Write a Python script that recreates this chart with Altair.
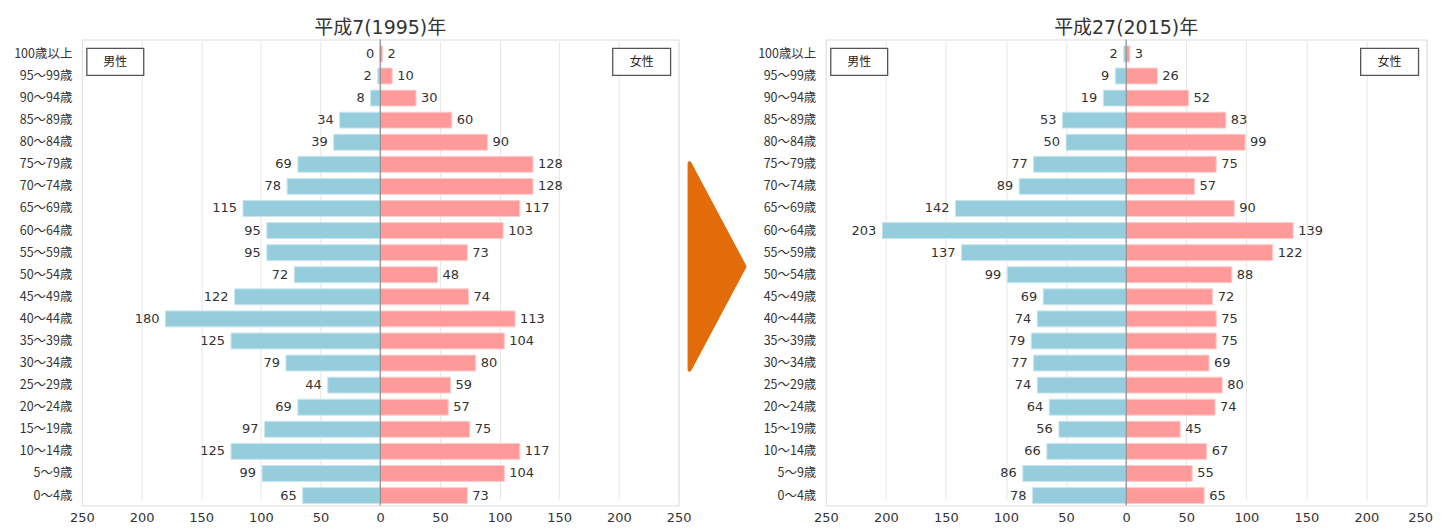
import altair as alt
import pandas as pd

ages = ["100歳以上", "95～99歳", "90～94歳", "85～89歳", "80～84歳", "75～79歳",
        "70～74歳", "65～69歳", "60～64歳", "55～59歳", "50～54歳", "45～49歳",
        "40～44歳", "35～39歳", "30～34歳", "25～29歳", "20～24歳", "15～19歳",
        "10～14歳", "5～9歳", "0～4歳"]

male_1995 = [0, 2, 8, 34, 39, 69, 78, 115, 95, 95, 72, 122, 180, 125, 79, 44, 69, 97, 125, 99, 65]
female_1995 = [2, 10, 30, 60, 90, 128, 128, 117, 103, 73, 48, 74, 113, 104, 80, 59, 57, 75, 117, 104, 73]
male_2015 = [2, 9, 19, 53, 50, 77, 89, 142, 203, 137, 99, 69, 74, 79, 77, 74, 64, 56, 66, 86, 78]
female_2015 = [3, 26, 52, 83, 99, 75, 57, 90, 139, 122, 88, 72, 75, 75, 69, 80, 74, 45, 67, 55, 65]

titles = ["平成7(1995)年", "平成27(2015)年"]
sex_labels = ["男性", "女性"]
x_ticks = [-250, -200, -150, -100, -50, 0, 50, 100, 150, 200, 250]

FONT = "Noto Sans CJK JP"
NUMFONT = "DejaVu Sans, Noto Sans CJK JP"
MALE_C = "#96CDDD"
FEMALE_C = "#FF9A9A"
PLOT_H = 467


def panel(title, male, female, width, arrow=False, pull_last=False):
    df = pd.DataFrame({
        "age": ages * 2,
        "sex": ["男性"] * len(ages) + ["女性"] * len(ages),
        "value": male + female,
        "signed": [-v for v in male] + female,
    })
    xs = alt.Scale(domain=[-250, 250], nice=False, zero=False)
    ys = alt.Scale(domain=ages, range=[6.5, 465], paddingInner=0.28, paddingOuter=0)
    extra = {}
    if pull_last:
        extra = dict(
            labelAlign={"condition": {"test": "datum.value == 250", "value": "right"}, "value": "center"},
            labelOffset={"condition": {"test": "datum.value == 250", "value": 6}, "value": 0},
        )
    base = alt.Chart(df)
    bars = base.mark_bar(strokeWidth=1).encode(
        x=alt.X("signed:Q", scale=xs,
                axis=alt.Axis(values=x_ticks, labelExpr="abs(datum.value)", title=None,
                              ticks=False, domain=False, grid=True, gridColor="#e6e6e6",
                              labelFont=NUMFONT, labelFontSize=13, labelColor="#333",
                              labelPadding=6, labelFlush=False, **extra)),
        x2=alt.datum(0),
        y=alt.Y("age:N", scale=ys, sort=ages,
                axis=alt.Axis(title=None, ticks=False, domain=False, labelFont=FONT,
                              labelFontSize=12.5, labelColor="#333", labelPadding=10,
                              minExtent=68, maxExtent=68)),
        color=alt.Color("sex:N", scale=alt.Scale(domain=["男性", "女性"], range=[MALE_C, FEMALE_C]),
                        legend=None),
        stroke=alt.Stroke("sex:N", scale=alt.Scale(domain=["男性", "女性"], range=["#c8e6ef", "#ffcccc"]),
                          legend=None),
    )
    mlab = base.transform_filter(alt.datum.sex == "男性").mark_text(
        align="right", baseline="middle", dx=-6, font=NUMFONT, fontSize=13, color="#333"
    ).encode(x=alt.X("signed:Q", scale=xs), y=alt.Y("age:N", scale=ys, sort=ages), text="value:Q")
    flab = base.transform_filter(alt.datum.sex == "女性").mark_text(
        align="left", baseline="middle", dx=5, font=NUMFONT, fontSize=13, color="#333"
    ).encode(x=alt.X("signed:Q", scale=xs), y=alt.Y("age:N", scale=ys, sort=ages), text="value:Q")
    zero = alt.Chart(pd.DataFrame({"z": [0]})).mark_rule(color="#777", strokeWidth=1).encode(
        x=alt.X("z:Q", scale=xs))

    boxes_df = pd.DataFrame({"label": sex_labels})
    box_l = alt.Chart(boxes_df).transform_filter(alt.datum.label == "男性").mark_rect(
        fill="white", stroke="#555", strokeWidth=1.3).encode(
        x=alt.value(5), x2=alt.value(62), y=alt.value(9), y2=alt.value(36))
    box_r = alt.Chart(boxes_df).transform_filter(alt.datum.label == "女性").mark_rect(
        fill="white", stroke="#555", strokeWidth=1.3).encode(
        x=alt.value(width - 66), x2=alt.value(width - 8), y=alt.value(9), y2=alt.value(36))
    txt_l = alt.Chart(boxes_df).transform_filter(alt.datum.label == "男性").mark_text(
        font=FONT, fontSize=12, color="#222", align="center", baseline="middle").encode(
        x=alt.value(33.5), y=alt.value(22.5), text="label:N")
    txt_r = alt.Chart(boxes_df).transform_filter(alt.datum.label == "女性").mark_text(
        font=FONT, fontSize=12, color="#222", align="center", baseline="middle").encode(
        x=alt.value(width - 37), y=alt.value(22.5), text="label:N")

    layers = [bars, zero, mlab, flab, box_l, box_r, txt_l, txt_r]
    if arrow:
        arr = alt.Chart(pd.DataFrame({"a": [1]})).mark_point(
            shape="M-1,-3.76L1,0L-1,3.76Z", filled=True, fill="#E36C0A", stroke="#E36C0A",
            strokeWidth=4, strokeJoin="round", opacity=1, size=3025, clip=False).encode(
            x=alt.value(width + 38.5), y=alt.value(227.5))
        layers.append(arr)
    return alt.layer(*layers).properties(
        width=width, height=PLOT_H,
        title=alt.Title(title, font=NUMFONT, fontSize=19, fontWeight="normal", color="#333", offset=1),
    )


left = panel(titles[0], male_1995, female_1995, 598, arrow=True)
right = panel(titles[1], male_2015, female_2015, 602, pull_last=True)

chart = alt.hconcat(left, right, spacing=9.5).configure_view(
    stroke="#888", strokeWidth=1
).configure(padding={"left": 5, "right": 0, "top": 10, "bottom": 0})

chart.save("out.html", embed_options={"renderer": "svg", "actions": False})
